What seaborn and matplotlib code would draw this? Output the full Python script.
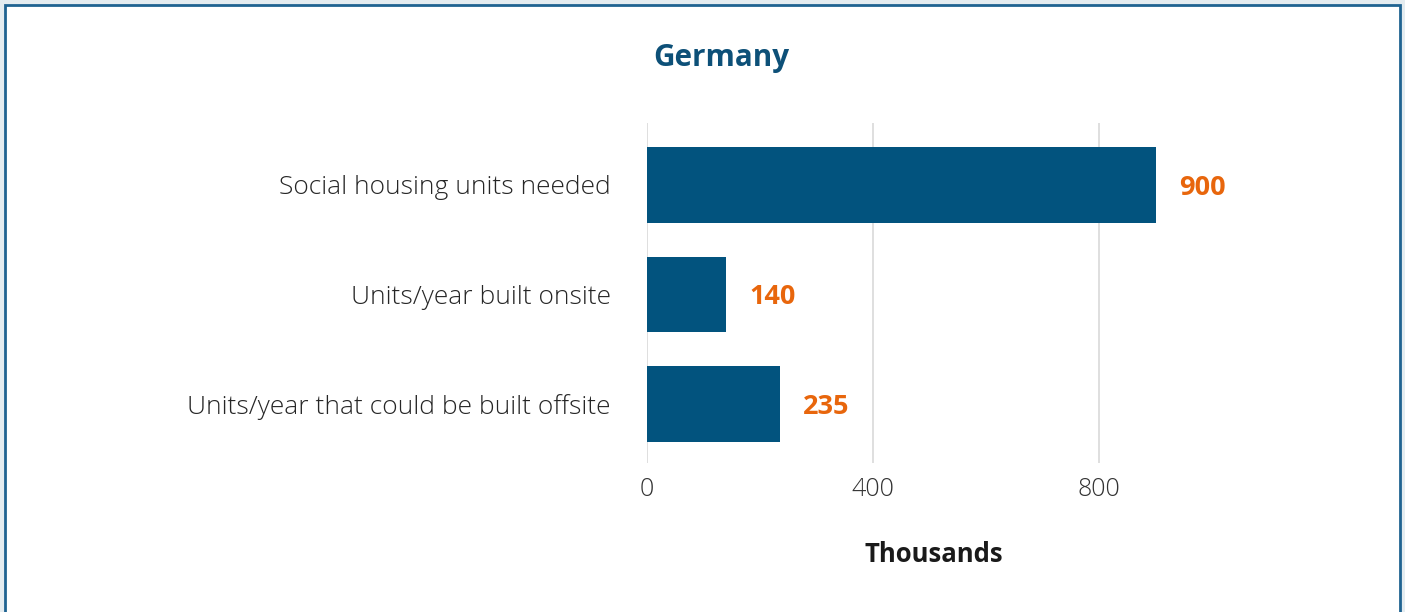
import matplotlib
matplotlib.use("Agg")
import matplotlib.pyplot as plt
import seaborn as sns
import pandas as pd
from matplotlib.patches import Rectangle

categories = ["Social housing units needed", "Units/year built onsite",
              "Units/year that could be built offsite"]
values = [900, 140, 235]
xticks = [0, 400, 800]
title = "Germany"
xlabel = "Thousands"

BAR = "#02537e"
ORANGE = "#e8660c"
TITLE_C = "#0d5078"

sns.set_theme(style="white")
plt.rcParams["font.family"] = ["Open Sans", "DejaVu Sans"]

df = pd.DataFrame({"cat": categories, "val": values})

fig = plt.figure(figsize=(14.05, 6.12), dpi=100)
fig.patch.set_facecolor("#e4ecf0")
fig.patches.append(Rectangle((5 / 1405, -0.05), 1395 / 1405, 1.05 - 5 / 612,
                             transform=fig.transFigure, facecolor="white",
                             edgecolor="#1f6391", linewidth=2, zorder=-10))

ax = fig.add_axes([647 / 1405, (612 - 463) / 612, 565 / 1405, 340 / 612])
ax.set_facecolor("none")
sns.barplot(data=df, x="val", y="cat", orient="h", color=BAR, saturation=1,
            width=0.69, linewidth=0, ax=ax, zorder=3)

ax.set_xlim(0, 1000)
ax.set_ylim(2.539, -0.566)
ax.set_xticks(xticks)
ax.set_xticklabels([str(t) for t in xticks])
ax.grid(axis="x", color="#d9d9d9", linewidth=1.2, zorder=0)
ax.grid(axis="y", visible=False)
for s in ax.spines.values():
    s.set_visible(False)
ax.tick_params(axis="x", length=0, pad=10, labelsize=18, labelcolor="#333333")
ax.tick_params(axis="y", length=0, pad=26, labelsize=19, labelcolor="#262626")
for lab in ax.get_xticklabels() + ax.get_yticklabels():
    lab.set_fontweight("light")
ax.set_ylabel("")
ax.set_xlabel(xlabel, fontsize=18.5, fontweight="bold", color="#1a1a1a")
ax.xaxis.set_label_coords((934 - 647) / 565, -(541 - 463) / 340)

for i, v in enumerate(values):
    ax.annotate(str(v), xy=(v, i), xytext=(17, 0), textcoords="offset points",
                va="center_baseline", ha="left", fontsize=19.5, fontweight="bold",
                color=ORANGE)

fig.text(721 / 1405, 1 - 58 / 612, title, ha="center", va="center",
         fontsize=21.3, fontweight="bold", color=TITLE_C)

fig.savefig("out.png", dpi=100, facecolor=fig.get_facecolor())
